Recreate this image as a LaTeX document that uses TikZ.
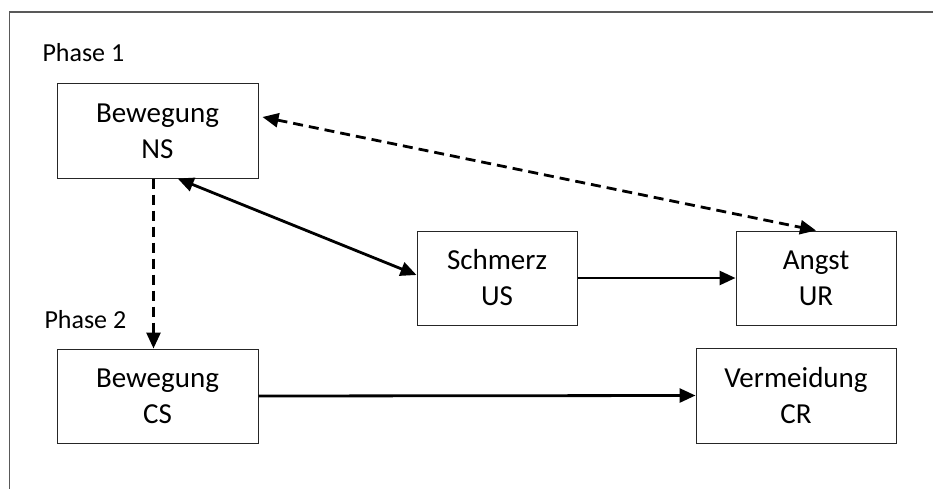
\documentclass[tikz,border=0pt]{standalone}
\usepackage{fontspec}
\setmainfont{Carlito}
\usetikzlibrary{calc}
\usetikzlibrary{arrows.meta}

\begin{document}
\begin{tikzpicture}[x=1pt, y=-1pt, >={Triangle[length=16pt, width=14pt]}]
            \tikzstyle{box} = [draw=black!85, line width=1pt, align=center, inner sep=0pt, font=\fontsize{29}{36}\selectfont]
            \tikzstyle{line} = [line width=2.8pt]
            \tikzstyle{dline} = [line, dash pattern=on 10pt off 6pt]
            \useasboundingbox (0, 0) rectangle (933, 489);
            \draw[color=black!65, line width=1.5pt] (9.5, 489) -- (9.5, 12) -- (933, 12);
            \node[anchor=base west, font=\fontsize{26}{31}\selectfont] (phaseone) at (39, 62) {Phase 1};
            \node[anchor=base west, font=\fontsize{26}{31}\selectfont] (phasetwo) at (41, 328) {Phase 2};
            \node[box, minimum width=201pt, minimum height=94pt] (ns) at (157.5, 131) {Bewegung\\NS};
            \node[box, minimum width=160pt, minimum height=94pt] (us) at (497, 278) {Schmerz\\US};
            \node[box, minimum width=160pt, minimum height=94pt] (ur) at (816, 278) {Angst\\UR};
            \node[box, minimum width=201pt, minimum height=94pt] (cs) at (157.5, 396) {Bewegung\\CS};
            \node[box, minimum width=200pt, minimum height=95pt] (cr) at (796, 395.5) {Vermeidung\\CR};
            \draw[line, <->] ($(ns.south west)!0.6!(ns.south east)$) -- ($(us.west)+(0, -3)$);
            \draw[dline, <->] ($(ns.east)+(4, -14)$) -- (ur.north);
            \draw[dline, ->] ($(ns.south)+(-4, 0)$) -- ($(cs.north)+(-4, 0)$);
            \draw[line, ->] (us.east) -- (ur.west);
            \draw[line, ->] (cs.east) -- (cr.west);
        \end{tikzpicture}
\end{document}
